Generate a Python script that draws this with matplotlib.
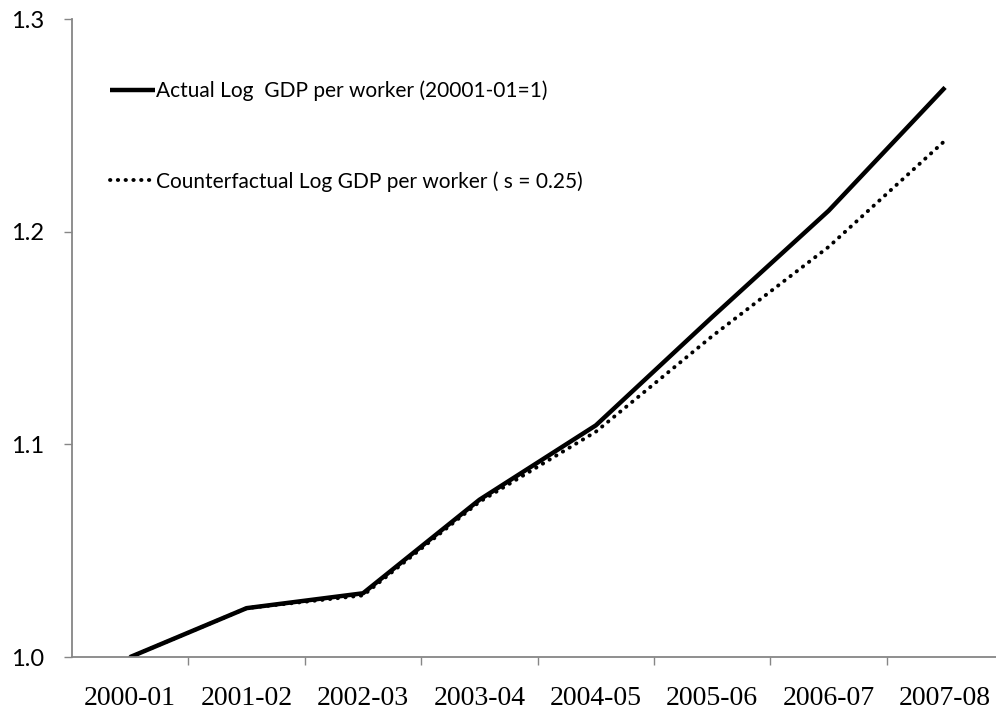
import matplotlib.pyplot as plt
from matplotlib.ticker import FixedLocator

years = ["2000-01", "2001-02", "2002-03", "2003-04", "2004-05", "2005-06", "2006-07", "2007-08"]
actual = [1.000, 1.023, 1.030, 1.074, 1.109, 1.160, 1.210, 1.268]
counterfactual = [1.000, 1.023, 1.029, 1.073, 1.106, 1.151, 1.193, 1.243]
yticks = [1.0, 1.1, 1.2, 1.3]

fig = plt.figure(figsize=(9.96, 7.14), dpi=100)
ax = fig.add_axes([0.0723, 0.0798, 0.935, 0.893])

x = list(range(len(years)))
ax.plot(x, actual, color="black", lw=3.2, solid_capstyle="butt",
        label="Actual Log  GDP per worker (20001-01=1)")
ax.plot(x, counterfactual, color="black", lw=2.8, linestyle=(0, (0.1, 1.9)),
        dash_capstyle="round", label="Counterfactual Log GDP per worker ( s = 0.25)")

ax.set_xlim(-0.5, len(years) - 0.5)
ax.set_ylim(1.0, 1.3)
ax.set_xticks(x)
ax.set_xticklabels(years, fontfamily="Liberation Serif", fontsize=20)
ax.xaxis.set_minor_locator(FixedLocator([i + 0.5 for i in range(len(years) - 1)]))
ax.tick_params(axis="x", which="major", length=0, pad=21)
ax.tick_params(axis="x", which="minor", length=6, color="#868686", width=1)
ax.set_yticks(yticks)
ax.set_yticklabels(["%.1f" % v for v in yticks], fontfamily="Lato", fontsize=17)
ax.tick_params(axis="y", length=6, color="#868686", width=1, pad=14)

for side in ["top", "right"]:
    ax.spines[side].set_visible(False)
for side in ["left", "bottom"]:
    ax.spines[side].set_color("#868686")
    ax.spines[side].set_linewidth(1.3)

ax.legend(loc="upper left", bbox_to_anchor=(0.041, 0.904), frameon=False,
          handlelength=2.15, handletextpad=0.05, labelspacing=3.35,
          borderpad=0, borderaxespad=0,
          prop={"family": "Lato", "size": 15})

fig.savefig("out.png", dpi=100)
